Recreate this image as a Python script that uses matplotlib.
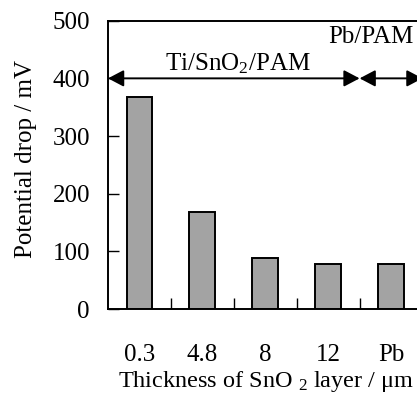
import matplotlib
matplotlib.use("Agg")
import matplotlib.pyplot as plt
import numpy as np

categories = ["0.3", "4.8", "8", "12", "Pb"]
values = [368, 168, 88, 78, 78]
yticks = [0, 100, 200, 300, 400, 500]

plt.rcParams['font.family'] = ['Liberation Serif', 'DejaVu Serif']
plt.rcParams['mathtext.fontset'] = 'custom'
plt.rcParams['mathtext.rm'] = 'Liberation Serif'
plt.rcParams['mathtext.it'] = 'Liberation Serif:italic'

fig = plt.figure(figsize=(4.17, 3.97), dpi=100)
ax = fig.add_axes([108/417, 88/397, (422.5-108)/417, (309-20.7)/397])

x = np.arange(len(categories))
ax.bar(x, values, width=0.41, color='#a3a3a3', edgecolor='black', linewidth=1.4)

ax.set_xlim(-0.5, len(categories) - 0.5)
ax.set_ylim(0, 500)
ax.set_yticks(yticks)
ax.set_xticks(x)
ax.set_xticklabels(categories)
ax.set_xticks(np.arange(0.5, len(categories) - 1, 1.0), minor=True)

ax.tick_params(axis='x', which='major', length=0, pad=25, labelsize=18)
ax.tick_params(axis='x', which='minor', direction='in', length=8, width=1)
ax.tick_params(axis='y', which='major', direction='in', length=8, width=1, pad=13, labelsize=18)

for s in ax.spines.values():
    s.set_linewidth(1.4)

ax.set_ylabel("Potential drop / mV", fontsize=18)
ax.yaxis.set_label_coords(-82/314.5, 0.52)
ax.set_xlabel("Thickness of SnO $_2$ layer / \u03bcm", fontsize=17.5)
ax.xaxis.set_label_coords((266-108)/314.5, -(381-309)/288.3)
ax.xaxis.label.set_va('center')
ax.yaxis.label.set_va('center')

arrow_kw = dict(arrowstyle='<|-|>,head_length=0.95,head_width=0.5', color='black', lw=1.4,
                shrinkA=0, shrinkB=0)
ax.annotate('', xy=(-0.5, 400), xytext=(3.5, 400), arrowprops=arrow_kw, annotation_clip=False)
ax.annotate('', xy=(3.5, 400), xytext=(4.5, 400), arrowprops=arrow_kw, annotation_clip=False)
ax.text(1.57, 404, "Ti/SnO$_2$/PAM", ha='center', va='bottom', fontsize=18)
ax.text(3.68, 453, "Pb/PAM", ha='center', va='bottom', fontsize=18)

fig.savefig("out.png", dpi=100)
